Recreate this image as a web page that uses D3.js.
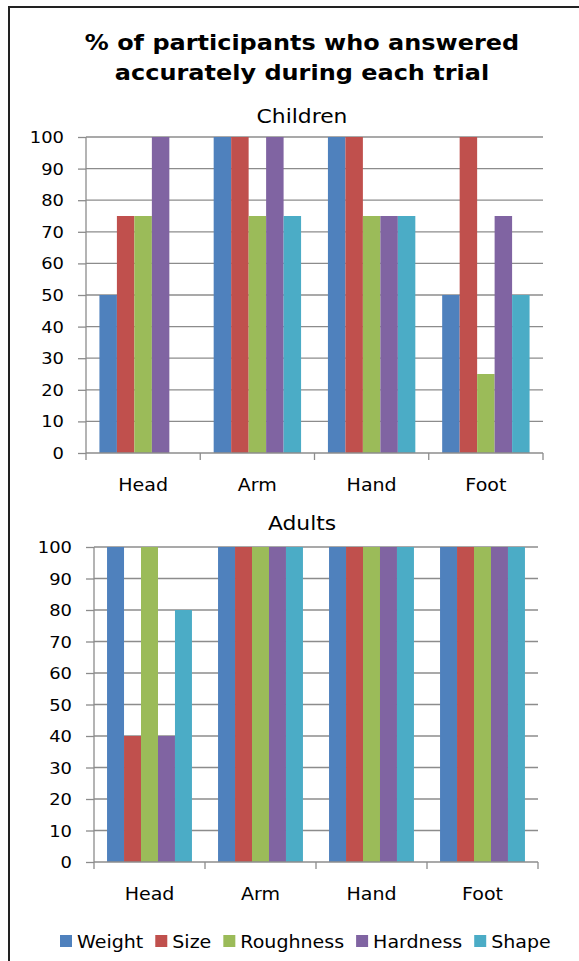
<!DOCTYPE html>
<html>
<head>
<meta charset="utf-8">
<script src="https://cdn.jsdelivr.net/npm/d3@7"></script>
<style>
  body { margin: 0; background: #fff; }
  svg { display: block; font-family: "DejaVu Sans", Verdana, sans-serif; }
</style>
</head>
<body>
<script>
var categories = ["Head", "Arm", "Hand", "Foot"];
var series = ["Weight", "Size", "Roughness", "Hardness", "Shape"];
var colors = ["#4F81BD", "#C0504D", "#9BBB59", "#8064A2", "#4BACC6"];
var yTicks = [0, 10, 20, 30, 40, 50, 60, 70, 80, 90, 100];

// values per category, in series order (null = no bar)
var childrenValues = [
    [50, 75, 75, 100, null],
    [100, 100, 75, 100, 75],
    [100, 100, 75, 75, 75],
    [50, 100, 25, 75, 50]
];
var adultsValues = [
    [100, 40, 100, 40, 80],
    [100, 100, 100, 100, 100],
    [100, 100, 100, 100, 100],
    [100, 100, 100, 100, 100]
];

var width = 579, height = 961;
var stretch = 1.12;   // text in the original is a bit wide

var svg = d3.select("body").append("svg")
    .attr("width", width)
    .attr("height", height);

function label(parent, x, y, str, size, anchor, weight) {
    return parent.append("text")
        .attr("transform", "translate(" + x + "," + y + ") scale(" + stretch + ",1)")
        .attr("text-anchor", anchor || "start")
        .attr("font-size", size)
        .attr("font-weight", weight || "normal")
        .attr("fill", "#000")
        .text(str);
}

// frame (only top and left edges visible)
svg.append("path")
    .attr("d", "M9," + height + " V7 H" + width)
    .attr("fill", "none")
    .attr("stroke", "#222")
    .attr("stroke-width", 2);

label(svg, 302, 50, "% of participants who answered", 21.4, "middle", "bold");
label(svg, 302, 80, "accurately during each trial", 21.4, "middle", "bold");

drawPanel("Children", childrenValues, {left: 86, right: 543, top: 137, bottom: 453, titleY: 123});
drawPanel("Adults", adultsValues, {left: 94, right: 538, top: 547, bottom: 862, titleY: 530});

function drawPanel(title, values, box) {
    let g = svg.append("g");

    let x0 = d3.scaleBand()
        .domain(categories)
        .range([box.left, box.right]);

    let gap = x0.bandwidth() * 0.235;
    let x1 = d3.scaleBand()
        .domain(series)
        .range([gap / 2, x0.bandwidth() - gap / 2]);

    let y = d3.scaleLinear()
        .domain([0, 100])
        .range([box.bottom, box.top]);

    label(g, 302, box.titleY, title, 19.5, "middle");

    // gridlines
    g.append("g")
        .selectAll("line")
        .data(yTicks.filter(t => t > 0))
        .join("line")
            .attr("x1", box.left).attr("x2", box.right)
            .attr("y1", d => y(d)).attr("y2", d => y(d))
            .attr("stroke", "#8c8c8c")
            .attr("stroke-width", 1.3);

    // bars
    let flat = [];
    values.forEach((row, i) => row.forEach((v, j) => {
        if (v !== null) flat.push({cat: categories[i], s: series[j], c: colors[j], v: v});
    }));
    g.append("g")
        .selectAll("rect")
        .data(flat)
        .join("rect")
            .attr("x", d => x0(d.cat) + x1(d.s))
            .attr("width", x1.bandwidth())
            .attr("y", d => y(d.v))
            .attr("height", d => y(0) - y(d.v))
            .attr("fill", d => d.c);

    // y axis
    let yAxis = g.append("g")
        .attr("transform", "translate(" + box.left + ",0)")
        .call(d3.axisLeft(y).tickValues(yTicks).tickSize(8).tickFormat(""));
    yAxis.selectAll("line, path").attr("stroke", "#8c8c8c").attr("stroke-width", 1.3);
    yAxis.select(".domain").attr("d", "M0," + box.top + "V" + box.bottom);
    yTicks.forEach(t => label(g, box.left - 22, y(t) + 6, t, 16, "end"));

    // x axis with ticks between categories
    let xg = g.append("g");
    xg.append("line")
        .attr("x1", box.left).attr("x2", box.right)
        .attr("y1", box.bottom).attr("y2", box.bottom)
        .attr("stroke", "#8c8c8c").attr("stroke-width", 1.3);
    let edges = categories.map(c => x0(c)).concat([box.right]);
    xg.selectAll(".xt")
        .data(edges)
        .join("line")
            .attr("class", "xt")
            .attr("x1", d => d).attr("x2", d => d)
            .attr("y1", box.bottom).attr("y2", box.bottom + 7)
            .attr("stroke", "#8c8c8c").attr("stroke-width", 1.3);
    categories.forEach(c => label(xg, x0(c) + x0.bandwidth() / 2, box.bottom + 38, c, 17, "middle"));
}

// legend
let legend = svg.append("g");
let lx = 60;
series.forEach((s, i) => {
    legend.append("rect")
        .attr("x", lx).attr("y", 935)
        .attr("width", 12).attr("height", 12)
        .attr("fill", colors[i]);
    let t = label(legend, lx + 17, 948, s, 17, "start");
    lx += 17 + t.node().getComputedTextLength() * stretch + 12;
});
</script>
</body>
</html>
